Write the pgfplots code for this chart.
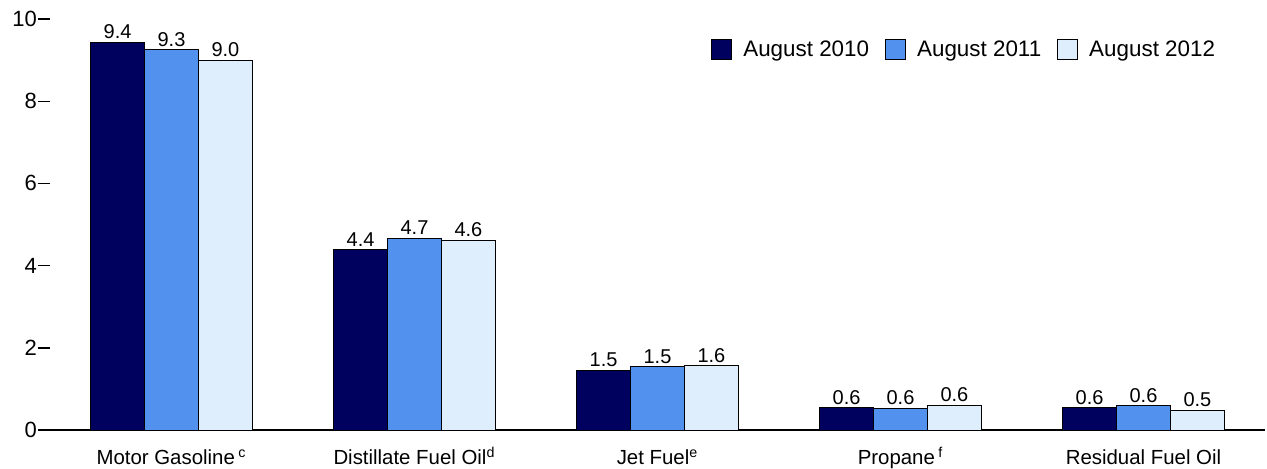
\documentclass[border=0pt]{standalone}
\usepackage{pgfplots}
\usepackage{pgfplotstable}
\pgfplotsset{compat=1.18}
\usepackage{fontspec}
\setmainfont{Liberation Sans}
\definecolor{cA}{RGB}{0,0,94}
\definecolor{cB}{RGB}{82,145,238}
\definecolor{cC}{RGB}{222,238,253}

\pgfplotstableread{
x y l
0 9.43 9.4
1 4.39 4.4
2 1.46 1.5
3 0.54 0.6
4 0.54 0.6
}\tA
\pgfplotstableread{
x y l
0 9.25 9.3
1 4.66 4.7
2 1.54 1.5
3 0.53 0.6
4 0.59 0.6
}\tB
\pgfplotstableread{
x y l
0 9.00 9.0
1 4.61 4.6
2 1.56 1.6
3 0.60 0.6
4 0.47 0.5
}\tC

\begin{document}
\begin{tikzpicture}
\path[use as bounding box] (-25pt,-19pt) rectangle (608.5pt,215pt);
\begin{axis}[
  at={(0pt,0pt)}, anchor=south west,
  scale only axis, width=607.5pt, height=205.5pt,
  xmin=-0.5, xmax=4.5, ymin=0, ymax=10,
  axis x line*=bottom, axis y line*=left,
  x axis line style={line width=1pt, -},
  y axis line style={draw=none},
  ytick={0,2,...,10},
  ytick style={line width=0.7pt, black},
  tick align=outside, major tick length=6pt,
  xtick={0,1,2,3,4}, xtick style={draw=none},
  xticklabels={Motor Gasoline\,\textsuperscript{c}, Distillate Fuel Oil\textsuperscript{d}, Jet Fuel\textsuperscript{e}, Propane\,\textsuperscript{f}, Residual Fuel Oil},
  xticklabel style={font=\fontsize{10.2}{12}\selectfont, text height=8pt, text depth=2pt, yshift=0.3pt},
  yticklabel style={font=\fontsize{11}{13}\selectfont, xshift=3pt},
  /pgf/number format/assume math mode=true,
  ybar, bar width=0.222,
  every axis plot/.append style={draw=black, line width=0.5pt},
  nodes near coords, point meta=explicit symbolic,
  every node near coord/.append style={font=\fontsize{10}{11}\selectfont, black, inner sep=1.5pt},
  legend columns=3,
  legend style={draw=none, inner sep=0pt, at={(0.9625,0.925)}, anchor=east, font=\fontsize{11.2}{13}\selectfont,
    /tikz/every odd column/.append style={column sep=3.5pt},
    /tikz/every even column/.append style={column sep=6pt}},
  legend image code/.code={\draw[#1, line width=0.5pt] (0pt,-5pt) rectangle (10pt,5pt);},
  clip=false,
]
\addplot[fill=cA, bar shift=-0.222] table[x=x, y=y, meta=l] {\tA};
\addplot[fill=cB, bar shift=0] table[x=x, y=y, meta=l] {\tB};
\addplot[fill=cC, bar shift=0.222] table[x=x, y=y, meta=l] {\tC};
\legend{August 2010, August 2011, August 2012}
\end{axis}
\end{tikzpicture}
\end{document}
